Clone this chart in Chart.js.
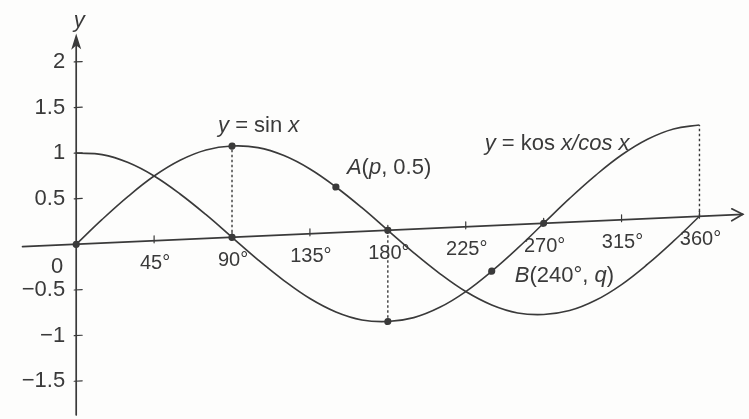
<!DOCTYPE html>
<html>
<head>
<meta charset="utf-8">
<title>y = sin x, y = kos x</title>
<script src="https://cdn.jsdelivr.net/npm/chart.js@4/dist/chart.umd.min.js"></script>
<style>
  html, body { margin: 0; padding: 0; background: #fdfdfc; }
  #wrap { width: 749px; height: 419px; overflow: hidden; }
</style>
</head>
<body>
<div id="wrap"><canvas id="graph" width="749" height="419"></canvas></div>
<script>
// ============================================
// SIN / COS GRAPH
// Two curves over 0..360 degrees, drop lines,
// marked points A and B, textbook style axes
// ============================================

// Values, every 15 degrees
const xDeg = [0, 15, 30, 45, 60, 75, 90, 105, 120, 135, 150, 165, 180,
              195, 210, 225, 240, 255, 270, 285, 300, 315, 330, 345, 360];
const sinVals = [0, 0.26, 0.5, 0.71, 0.87, 0.97, 1, 0.97, 0.87, 0.71, 0.5, 0.26, 0,
                 -0.26, -0.5, -0.71, -0.87, -0.97, -1, -0.97, -0.87, -0.71, -0.5, -0.26, 0];
const cosVals = [1, 0.97, 0.87, 0.71, 0.5, 0.26, 0, -0.26, -0.5, -0.71, -0.87, -0.97, -1,
                 -0.97, -0.87, -0.71, -0.5, -0.26, 0, 0.26, 0.5, 0.71, 0.87, 0.97, 1];

// Axis ticks
const xTicks = [45, 90, 135, 180, 225, 270, 315, 360];
const xTickLabels = ['45°', '90°', '135°', '180°', '225°', '270°', '315°', '360°'];
const yTicks = [2, 1.5, 1, 0.5, -0.5, -1, -1.5];
const yTickLabels = ['2', '1.5', '1', '0.5', '−0.5', '−1', '−1.5'];

// Dotted drop lines (x, top/bottom value)
const dropX = [90, 180, 360];
const dropY = [1, -1, 1];

// Marked dots, A(p, 0.5) and B(240°, q) included
const markX = [0, 90, 90, 180, 180, 270, 150, 240];
const markY = [0, 1, 0, 0, -1, 0, 0.5, -0.5];

(function() {
  'use strict';

  const INK = '#3a3a3a';
  const FONT = "'Liberation Sans', Arial, sans-serif";
  const SHEAR = 0.045;   // the scanned x axis rises to the right

  // visible range of the axes
  const X_MIN = -41.7, X_MAX = 386.3;
  const Y_MIN = -1.871, Y_MAX = 2.634;
  const AXIS_X_FROM = -31, AXIS_X_TO = 385, AXIS_Y_TOP = 2.31;

  function pt(chart, xv, yv) {
    const xs = chart.scales.x, ys = chart.scales.y;
    const x0 = xs.getPixelForValue(0);
    const px = xs.getPixelForValue(xv);
    return { x: px, y: ys.getPixelForValue(yv) - SHEAR * (px - x0) };
  }

  // parts: [text, italic]
  function drawRich(ctx, parts, x, y) {
    let cx = x;
    ctx.textAlign = 'left';
    parts.forEach(([t, it]) => {
      ctx.font = (it ? 'italic ' : '') + '22px ' + FONT;
      ctx.fillText(t, cx, y);
      cx += ctx.measureText(t).width;
    });
  }

  const figurePlugin = {
    id: 'figure',
    beforeDatasetsDraw(chart) {
      const ctx = chart.ctx;
      const xs = chart.scales.x, ys = chart.scales.y;
      const x0 = xs.getPixelForValue(0);
      const y0 = ys.getPixelForValue(0);

      ctx.save();
      ctx.transform(1, -SHEAR, 0, 1, 0, SHEAR * x0);
      ctx.strokeStyle = INK;
      ctx.fillStyle = INK;
      ctx.lineWidth = 1.7;
      ctx.lineCap = 'round';

      // x axis + open arrow
      const xa = xs.getPixelForValue(AXIS_X_FROM);
      const xb = xs.getPixelForValue(AXIS_X_TO);
      ctx.beginPath();
      ctx.moveTo(xa, y0);
      ctx.lineTo(xb, y0);
      ctx.stroke();
      ctx.beginPath();
      ctx.moveTo(xb - 11, y0 - 6);
      ctx.lineTo(xb, y0);
      ctx.lineTo(xb - 11, y0 + 6);
      ctx.stroke();

      // y axis + filled arrow
      const yt = ys.getPixelForValue(AXIS_Y_TOP);
      ctx.beginPath();
      ctx.moveTo(x0, ys.getPixelForValue(Y_MIN));
      ctx.lineTo(x0, yt + 10);
      ctx.stroke();
      ctx.beginPath();
      ctx.moveTo(x0, yt);
      ctx.lineTo(x0 - 5, yt + 16);
      ctx.lineTo(x0, yt + 12);
      ctx.lineTo(x0 + 5, yt + 16);
      ctx.closePath();
      ctx.fill();

      // tick marks
      ctx.lineWidth = 1.2;
      xTicks.forEach(v => {
        const p = xs.getPixelForValue(v);
        ctx.beginPath();
        ctx.moveTo(p, y0 - 5);
        ctx.lineTo(p, y0 + 2);
        ctx.stroke();
      });
      yTicks.forEach(v => {
        const p = ys.getPixelForValue(v);
        ctx.beginPath();
        ctx.moveTo(x0 - 2, p);
        ctx.lineTo(x0 + 6, p);
        ctx.stroke();
      });
    },
    afterDatasetsDraw(chart) {
      const ctx = chart.ctx;
      ctx.restore();

      const xs = chart.scales.x, ys = chart.scales.y;
      const x0 = xs.getPixelForValue(0);
      ctx.save();
      ctx.fillStyle = INK;
      ctx.textBaseline = 'middle';
      ctx.font = '20px ' + FONT;

      // x tick labels
      ctx.textAlign = 'center';
      xTicks.forEach((v, i) => {
        const p = pt(chart, v, 0);
        ctx.fillText(xTickLabels[i], p.x + 1, p.y + 23);
      });
      ctx.font = '22px ' + FONT;
      const o = pt(chart, 0, 0);
      ctx.fillText('0', o.x - 19, o.y + 23);

      // y tick labels
      ctx.textAlign = 'right';
      yTicks.forEach((v, i) => {
        ctx.fillText(yTickLabels[i], x0 - 11, ys.getPixelForValue(v));
      });

      // axis name
      ctx.textAlign = 'center';
      ctx.font = 'italic 22px ' + FONT;
      ctx.fillText('y', x0 + 3, ys.getPixelForValue(AXIS_Y_TOP) - 13);

      // curve and point labels
      let p = pt(chart, 90, 1);
      drawRich(ctx, [['y', true], [' = sin ', false], ['x', true]], p.x - 14, p.y - 20);
      p = pt(chart, 150, 0.5);
      drawRich(ctx, [['A', true], ['(', false], ['p', true], [', 0.5)', false]], p.x + 11, p.y - 19);
      p = pt(chart, 270, 0);
      drawRich(ctx, [['y', true], [' = kos ', false], ['x/cos x', true]], p.x - 59, p.y - 79);
      p = pt(chart, 240, -0.5);
      drawRich(ctx, [['B', true], ['(240°, ', false], ['q', true], [')', false]], p.x + 23, p.y + 5);

      ctx.restore();
    }
  };

  function curve(vals) {
    return {
      data: xDeg.map((x, i) => ({ x: x, y: vals[i] })),
      showLine: true,
      borderColor: INK,
      borderWidth: 1.6,
      pointRadius: 0,
      tension: 0.4,
      fill: false
    };
  }

  const drops = dropX.map((x, i) => ({
    data: [{ x: x, y: 0 }, { x: x, y: dropY[i] }],
    showLine: true,
    borderColor: INK,
    borderWidth: 1.4,
    borderDash: [2.5, 2.5],
    pointRadius: 0
  }));

  const marks = {
    data: markX.map((x, i) => ({ x: x, y: markY[i] })),
    showLine: false,
    pointRadius: 3.6,
    pointBackgroundColor: INK,
    pointBorderWidth: 0
  };

  new Chart(document.getElementById('graph').getContext('2d'), {
    type: 'scatter',
    data: { datasets: [marks, curve(sinVals), curve(cosVals)].concat(drops) },
    options: {
      responsive: false,
      animation: false,
      events: [],
      layout: { padding: 0 },
      plugins: { legend: { display: false }, tooltip: { enabled: false } },
      scales: {
        x: { type: 'linear', min: X_MIN, max: X_MAX, display: false },
        y: { type: 'linear', min: Y_MIN, max: Y_MAX, display: false }
      }
    },
    plugins: [figurePlugin]
  });

})();
</script>
</body>
</html>
